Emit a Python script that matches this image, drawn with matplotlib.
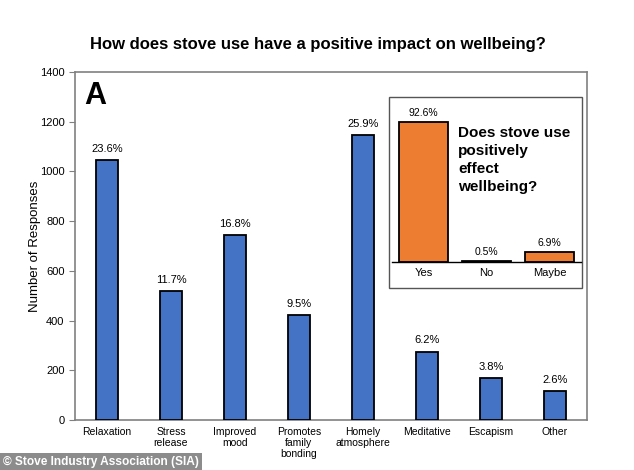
import matplotlib.pyplot as plt
from matplotlib.patches import Rectangle

# -------------------------------
# Data
# -------------------------------
categories = ["Relaxation", "Stress\nrelease", "Improved\nmood", "Promotes\nfamily\nbonding",
              "Homely\natmosphere", "Meditative", "Escapism", "Other"]
responses = [1045, 518, 744, 421, 1147, 275, 168, 115]
pct_labels = ["23.6%", "11.7%", "16.8%", "9.5%", "25.9%", "6.2%", "3.8%", "2.6%"]

inset_cats = ["Yes", "No", "Maybe"]
inset_vals = [92.6, 0.5, 6.9]
inset_labels = ["92.6%", "0.5%", "6.9%"]
inset_title = ["Does stove use", "positively", "effect", "wellbeing?"]

plt.rcParams['font.family'] = ['Liberation Sans', 'DejaVu Sans']

fig = plt.figure(figsize=(6.34, 4.70), dpi=100)
fig.patch.set_facecolor("white")

# -------------------------------
# Main chart
# -------------------------------
ax = fig.add_axes([75 / 634, (470 - 420) / 470, 512 / 634, 348 / 470])
x = range(len(categories))
ax.bar(x, responses, width=0.33, color="#4472C4", edgecolor="black", linewidth=1.3, zorder=3)
for i, (v, lab) in enumerate(zip(responses, pct_labels)):
    ax.text(i, v + 25, lab, ha="center", va="bottom", fontsize=8)

ax.set_xlim(-0.5, 7.5)
ax.set_ylim(0, 1400)
ax.set_yticks(range(0, 1401, 200))
ax.set_xticks(list(x))
ax.set_xticklabels(categories, fontsize=7.5, linespacing=1.15)
ax.tick_params(axis="x", length=0, pad=5)
ax.tick_params(axis="y", labelsize=8, length=4, color="#808080", direction="out")
ax.set_ylabel("Number of Responses", fontsize=9.5, labelpad=-1)
for s in ax.spines.values():
    s.set_color("#808080")
    s.set_linewidth(1.2)

ax.text(0.018, 0.975, "A", transform=ax.transAxes, fontsize=22, fontweight="bold",
        ha="left", va="top")

fig.text(318 / 634, 1 - 45 / 470, "How does stove use have a positive impact on wellbeing?",
         ha="center", va="center", fontsize=12, fontweight="bold")

# -------------------------------
# Inset chart
# -------------------------------
fig.patches.append(Rectangle((389 / 634, (470 - 288) / 470), 193 / 634, 191 / 470,
                             transform=fig.transFigure, facecolor="white",
                             edgecolor="#555555", linewidth=1.0, zorder=5))

ax2 = fig.add_axes([392 / 634, (470 - 262) / 470, 189 / 634, 151 / 470], zorder=6)
ax2.patch.set_alpha(0)
ax2.bar(range(3), inset_vals, width=0.79, color="#ED7D31", edgecolor="black", linewidth=1.3)
for i, (v, lab) in enumerate(zip(inset_vals, inset_labels)):
    ax2.text(i, v + 2.5, lab, ha="center", va="bottom", fontsize=7.5)
ax2.set_xlim(-0.5, 2.5)
ax2.set_ylim(0, 100)
ax2.set_xticks(range(3))
ax2.set_xticklabels(inset_cats, fontsize=8)
ax2.tick_params(axis="x", length=0, pad=4)
ax2.set_yticks([])
for side in ["left", "right", "top"]:
    ax2.spines[side].set_visible(False)
ax2.spines["bottom"].set_color("black")
ax2.spines["bottom"].set_linewidth(1.0)

for k, line in enumerate(inset_title):
    fig.text(458 / 634, 1 - (133 + 18 * k) / 470, line, ha="left", va="center",
             fontsize=11, fontweight="bold", zorder=7)

# -------------------------------
# Credit
# -------------------------------
fig.text(3 / 634, 1 - 462 / 470, "\u00a9 Stove Industry Association (SIA)", ha="left", va="center",
         fontsize=8.6, fontweight="bold", color="white",
         bbox=dict(boxstyle="square,pad=0.25", facecolor="#8c8c8c", edgecolor="none"))

plt.savefig("out.png", dpi=100)
